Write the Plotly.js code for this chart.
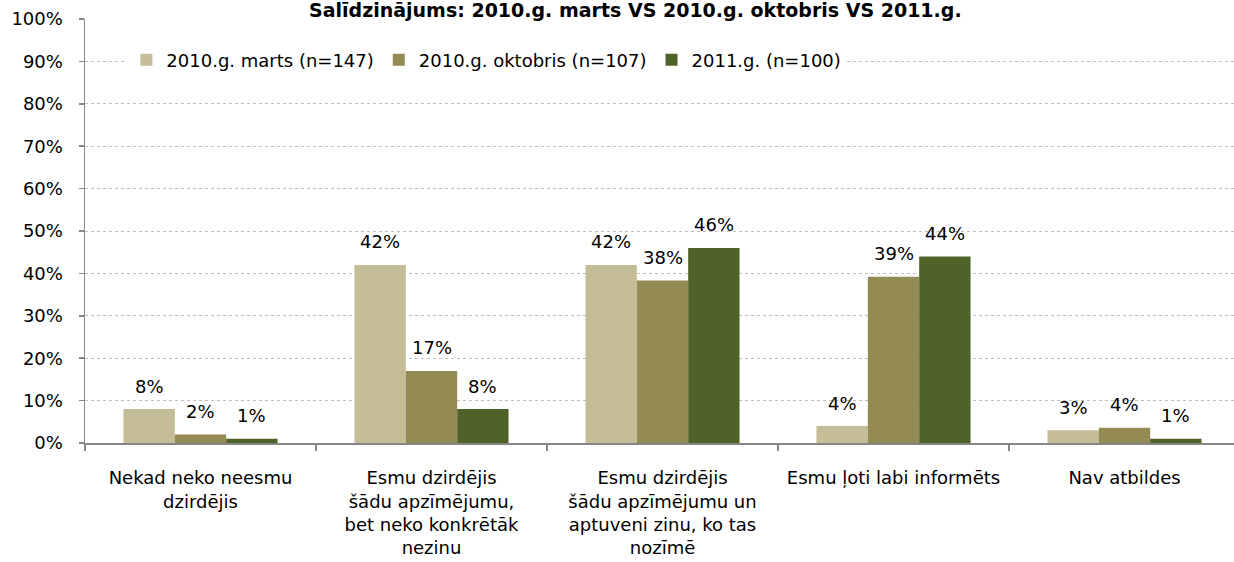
<!DOCTYPE html>
<html>
<head>
<meta charset="utf-8">
<script src="https://cdn.plot.ly/plotly-3.0.1.min.js"></script>
<style>html,body{margin:0;padding:0;background:#fff;}#chart{width:1234px;height:562px;}</style>
</head>
<body>
<div id="chart"></div>
<script>
const categories = [
  "Nekad neko neesmu<br>dzirdējis",
  "Esmu dzirdējis<br>šādu apzīmējumu,<br>bet neko konkrētāk<br>nezinu",
  "Esmu dzirdējis<br>šādu apzīmējumu un<br>aptuveni zinu, ko tas<br>nozīmē",
  "Esmu ļoti labi informēts",
  "Nav atbildes"
];
const seriesNames = ["2010.g. marts (n=147)", "2010.g. oktobris (n=107)", "2011.g. (n=100)"];
const marts2010 = [8, 42, 42, 4, 3];
const oktobris2010 = [2, 17, 38.3, 39.2, 3.6];
const year2011 = [1, 8, 46, 44, 1];
const colors = ["#C4BD97", "#948A54", "#4F6228"];
const titleText = "Salīdzinājums: 2010.g. marts VS 2010.g. oktobris VS 2011.g.";

const FONT = "DejaVu Sans, Arial, sans-serif";
const allSeries = [marts2010, oktobris2010, year2011];
const traces = allSeries.map((vals, i) => ({
  type: "bar",
  name: seriesNames[i],
  x: categories,
  y: vals,
  marker: {color: colors[i], line: {width: 0}},
  hoverinfo: "skip"
}));

const plotW = 1234 - 85;
const groupW = plotW / 4.974;
const barW = groupW * (1 - 0.333) / 3;
const annotations = [];
allSeries.forEach((vals, i) => {
  vals.forEach((v, j) => {
    annotations.push({
      x: categories[j], y: v, xref: "x", yref: "y",
      text: Math.round(v) + "%", showarrow: false,
      xshift: (i - 1) * barW, yshift: 23, yanchor: "middle",
      font: {family: FONT, size: 18, color: "#000"}
    });
  });
});
annotations.push({
  xref: "paper", yref: "paper", x: 0.479, y: 1.022, xanchor: "center", yanchor: "middle",
  text: "<b>" + titleText + "</b>", showarrow: false,
  font: {family: FONT, size: 19, color: "#000"}
});

const layout = {
  width: 1234, height: 562,
  margin: {l: 85, r: 0, t: 19, b: 119},
  paper_bgcolor: "#fff", plot_bgcolor: "#fff",
  barmode: "group", bargap: 0.333, bargroupgap: 0,
  showlegend: true,
  legend: {
    orientation: "h", x: 0.036, xanchor: "left", y: 0.903, yanchor: "middle",
    bgcolor: "#fff", font: {family: FONT, size: 18, color: "#000"},
    traceorder: "normal"
  },
  xaxis: {
    type: "category", range: [-0.5, 4.474],
    showline: true, linecolor: "#868686", linewidth: 1.5,
    ticks: "outside", tickson: "boundaries", ticklen: 6, tickcolor: "#868686", tickwidth: 1.5,
    tickfont: {family: FONT, size: 18, color: "#000"},
    ticklabelstandoff: 18,
    showgrid: false, zeroline: false, fixedrange: true
  },
  yaxis: {
    range: [0, 100], dtick: 10, ticksuffix: "%",
    showline: true, linecolor: "#868686", linewidth: 1.5,
    ticks: "outside", ticklen: 5, tickcolor: "#868686", tickwidth: 1.5,
    tickfont: {family: FONT, size: 18, color: "#000"},
    ticklabelstandoff: 12,
    showgrid: true, gridcolor: "#BFBFBF", griddash: "dot", gridwidth: 1,
    zeroline: false, fixedrange: true
  },
  annotations: annotations
};

Plotly.newPlot("chart", traces, layout, {displayModeBar: false, staticPlot: true});
</script>
</body>
</html>
